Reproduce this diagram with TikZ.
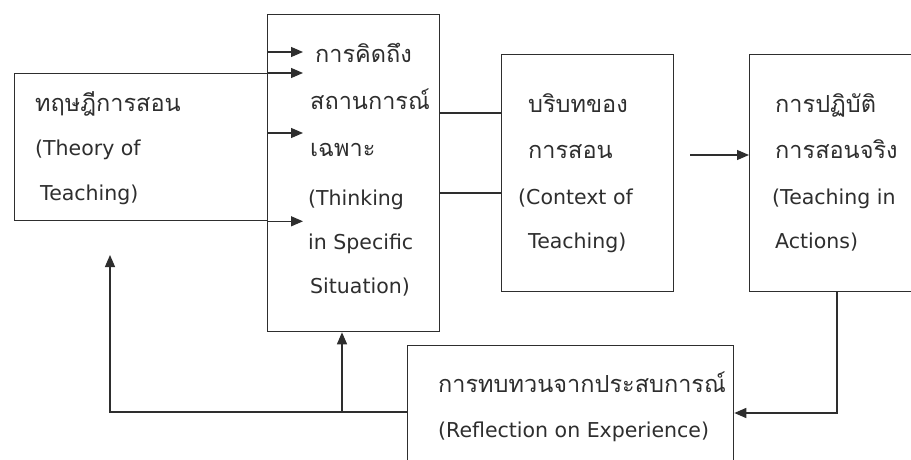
\documentclass[tikz,border=0pt]{standalone}
\usepackage{fontspec}
\setmainfont{DejaVu Sans}
\newfontfamily\thaifont[Script=Thai]{Loma}
\usetikzlibrary{arrows.meta}
\definecolor{ink}{HTML}{2E2E2E}
\tikzset{
  box/.style={draw=ink, line width=1.3pt, rectangle, inner sep=0pt, anchor=north west},
  link/.style={draw=ink, line width=1.3pt},
  arr/.style={link, -{Triangle[length=12pt,width=10pt]}},
  lat/.style={anchor=base west, inner sep=0pt, text=ink, font=\fontsize{20.5}{24}\selectfont},
  th/.style={anchor=base west, inner sep=0pt, text=ink, font=\thaifont\fontsize{23.5}{27}\selectfont}
}
\begin{document}
\begin{tikzpicture}[x=1pt,y=-1pt]
\useasboundingbox (0,0) rectangle (911,460);
\fill[white] (0,0) rectangle (911,460);
\clip (0,0) rectangle (911,460);

% boxes
\node[box, minimum width=253pt, minimum height=147pt] (b1) at (14,73) {};
\node[box, minimum width=172pt, minimum height=317pt] (b2) at (267,14) {};
\node[box, minimum width=172pt, minimum height=237pt] (b3) at (501,54) {};
\node[box, minimum width=200pt, minimum height=237pt] (b4) at (749,54) {};
\node[box, minimum width=326pt, minimum height=130pt] (b5) at (407,345) {};

% box texts
\node[th]  (t1a) at (35,111)  {ทฤษฎีการสอน};
\node[lat] (t1b) at (35,155)  {(Theory of};
\node[lat] (t1c) at (40,200)  {Teaching)};

\node[th]  (t2a) at (315,63)  {การคิดถึง};
\node[th]  (t2b) at (310,110) {สถานการณ์};
\node[th]  (t2c) at (310,157) {เฉพาะ};
\node[lat] (t2d) at (308,205) {(Thinking};
\node[lat] (t2e) at (308,249) {in Specific};
\node[lat] (t2f) at (310,293) {Situation)};

\node[th]  (t3a) at (528,112) {บริบทของ};
\node[th]  (t3b) at (528,158) {การสอน};
\node[lat] (t3c) at (518,204) {(Context of};
\node[lat] (t3d) at (528,248) {Teaching)};

\node[th]  (t4a) at (775,112) {การปฏิบัติ};
\node[th]  (t4b) at (775,158) {การสอนจริง};
\node[lat] (t4c) at (772,204) {(Teaching in};
\node[lat] (t4d) at (775,248) {Actions)};

\node[th]  (t5a) at (438,392) {การทบทวนจากประสบการณ์};
\node[lat] (t5b) at (438,437) {(Reflection on Experience)};

% arrows into the thinking box
\coordinate (tipA) at (303,52);
\coordinate (tipB) at (303,133);
\draw[arr] (b2.west |- tipA) -- (tipA);
\draw[arr] (b1.north east) -- (b1.north east -| tipA);
\draw[arr] (b2.west |- tipB) -- (tipB);
\draw[arr] (b1.south east) -- (b1.south east -| tipA);

% links to the context box
\coordinate (l1) at (470,113);
\coordinate (l2) at (470,193);
\draw[link] (b2.east |- l1) -- (b3.west |- l1);
\draw[link] (b2.east |- l2) -- (b3.west |- l2);

% arrow into the action box
\coordinate (s4) at (690,155);
\draw[arr] (s4) -- (s4 -| b4.west);

% action to reflection
\coordinate (c4) at (837,413);
\draw[arr] (c4 |- b4.south) -- (c4) -- (c4 -| b5.east);

% feedback from reflection
\coordinate (fb) at (110,412);
\coordinate (fbtip) at (110,255);
\coordinate (br) at (342,412);
\draw[arr] (fb -| b5.west) -- (fb) -- (fbtip);
\draw[arr] (br) -- (br |- b2.south);
\end{tikzpicture}
\end{document}
